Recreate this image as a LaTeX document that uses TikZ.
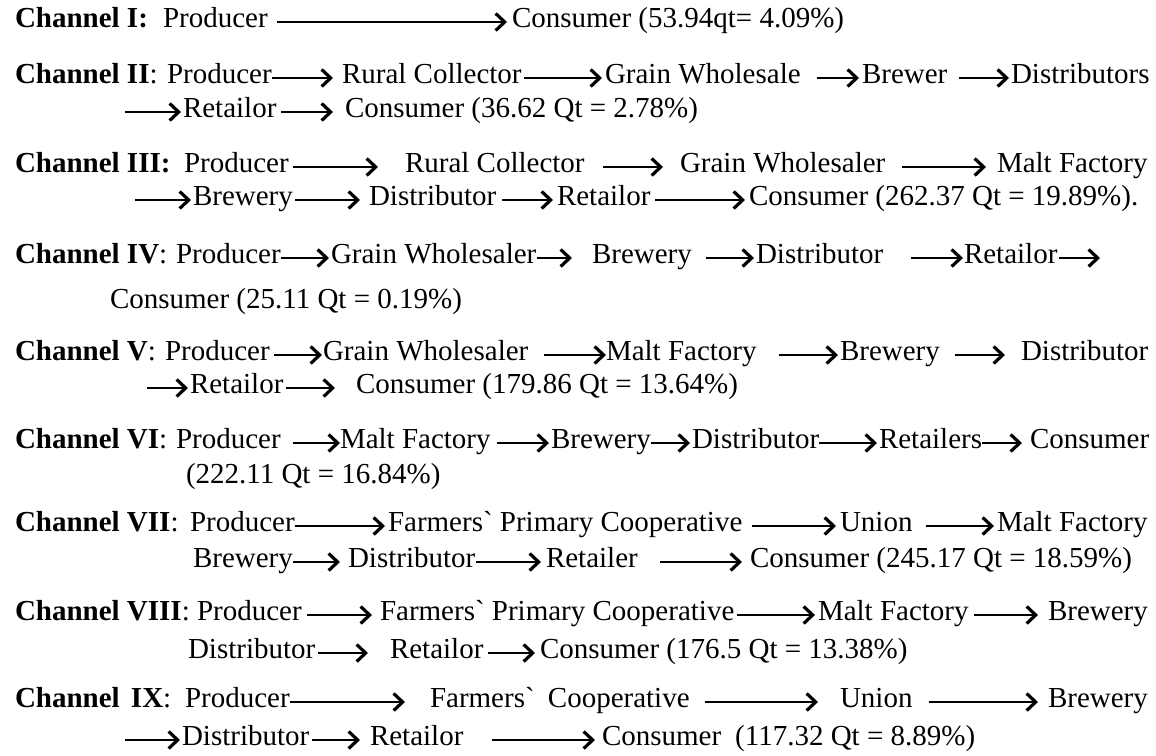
\documentclass[tikz,border=0pt]{standalone}
\usepackage{fontspec}
\setmainfont{Liberation Serif}[Ligatures=TeXOff]
\usetikzlibrary{arrows.meta}
\newcommand\fsz{\fontsize{29}{35}\selectfont}
\tikzset{
  tx/.style={anchor=mid west, inner sep=0pt, outer sep=0pt, font=\fsz},
  flow/.style={line width=2.3pt, -{Straight Barb[length=9pt,width=17pt,line width=3.2pt]}},
}
\newcommand\arr[4]{\draw[flow,shorten <=#3pt,shorten >=#4pt] ([yshift=3pt]#1.mid east) -- ([yshift=3pt]#2.mid west);}
\begin{document}
\begin{tikzpicture}[x=1pt,y=-1pt]
\fill[white] (0,0) rectangle (1156,755);
\useasboundingbox (0,0) rectangle (1156,755);
% Channel I
\node[tx] (h1) at (15,25) {\textbf{Channel I:}};
\node[tx] (p1) at (163,25) {Producer};
\node[tx] (c1) at (512,25) {Consumer (53.94qt= 4.09\%)};
\arr{p1}{c1}{9}{5}
% Channel II
\node[tx] (h2) at (15,81) {\textbf{Channel II}:};
\node[tx] (p2) at (167,81) {Producer};
\node[tx] (r2) at (342,81) {Rural Collector};
\node[tx] (g2) at (605,81) {Grain Wholesale};
\node[tx] (b2) at (862,81) {Brewer};
\node[tx] (d2) at (1011,81) {Distributors};
\arr{p2}{r2}{0}{9}
\arr{r2}{g2}{2}{3}
\arr{g2}{b2}{16}{3}
\arr{b2}{d2}{12}{2}
\coordinate (s3) at (125,115);
\node[tx] (t3) at (183,115) {Retailor};
\node[tx] (k3) at (345,115) {Consumer (36.62 Qt = 2.78\%)};
\draw[flow,shorten >=2pt] ([yshift=3pt]s3) -- ([yshift=3pt]t3.mid west);
\arr{t3}{k3}{5}{12}
% Channel III
\node[tx] (h4) at (15,170) {\textbf{Channel III:}};
\node[tx] (p4) at (184,170) {Producer};
\node[tx] (r4) at (405,170) {Rural Collector};
\node[tx] (g4) at (680,170) {Grain Wholesaler};
\node[tx] (m4) at (997,170) {Malt Factory};
\arr{p4}{r4}{4}{27}
\arr{r4}{g4}{18}{17}
\arr{g4}{m4}{17}{11}
\coordinate (s5) at (135,203);
\node[tx] (b5) at (193,203) {Brewery};
\node[tx] (d5) at (369,203) {Distributor};
\node[tx] (t5) at (557,203) {Retailor};
\node[tx] (k5) at (749,203) {Consumer (262.37 Qt = 19.89\%).};
\draw[flow,shorten >=2pt] ([yshift=3pt]s5) -- ([yshift=3pt]b5.mid west);
\arr{b5}{d5}{2}{9}
\arr{d5}{t5}{6}{4}
\arr{t5}{k5}{5}{4}
% Channel IV
\node[tx] (h6) at (15,261) {\textbf{Channel IV}:};
\node[tx] (p6) at (176,261) {Producer};
\node[tx] (g6) at (331,261) {Grain Wholesaler};
\node[tx] (b6) at (592,261) {Brewery};
\node[tx] (d6) at (756,261) {Distributor};
\node[tx] (t6) at (964,261) {Retailor};
\coordinate (e6) at (1100,261);
\arr{p6}{g6}{0}{2}
\arr{g6}{b6}{1}{20}
\arr{b6}{d6}{14}{2}
\arr{d6}{t6}{28}{1}
\draw[flow,shorten <=2pt] ([yshift=3pt]t6.mid east) -- ([yshift=3pt]e6);
\node[tx] (k7) at (110,306) {Consumer (25.11 Qt = 0.19\%)};
% Channel V
\node[tx] (h8) at (15,358) {\textbf{Channel V}:};
\node[tx] (p8) at (165,358) {Producer};
\node[tx] (g8) at (323,358) {Grain Wholesaler};
\node[tx] (m8) at (606,358) {Malt Factory};
\node[tx] (b8) at (840,358) {Brewery};
\node[tx] (d8) at (1021,358) {Distributor};
\arr{p8}{g8}{4}{1}
\arr{g8}{m8}{16}{0}
\arr{m8}{b8}{22}{2}
\arr{b8}{d8}{15}{16}
\coordinate (s9) at (147,391);
\node[tx] (t9) at (190,391) {Retailor};
\node[tx] (k9) at (356,391) {Consumer (179.86 Qt = 13.64\%)};
\draw[flow,shorten >=2pt] ([yshift=3pt]s9) -- ([yshift=3pt]t9.mid west);
\arr{t9}{k9}{3}{21}
% Channel VI
\node[tx] (h10) at (15,446) {\textbf{Channel VI}:};
\node[tx] (p10) at (176,446) {Producer};
\node[tx] (m10) at (340,446) {Malt Factory};
\node[tx] (b10) at (551,446) {Brewery};
\node[tx] (d10) at (692,446) {Distributor};
\node[tx] (t10) at (879,446) {Retailers};
\node[tx] (k10) at (1030,446) {Consumer};
\arr{p10}{m10}{12}{0}
\arr{m10}{b10}{6}{2}
\arr{b10}{d10}{0}{2}
\arr{d10}{t10}{0}{2}
\arr{t10}{k10}{0}{8}
\node[tx] (q11) at (186,481) {(222.11 Qt = 16.84\%)};
% Channel VII
\node[tx] (h12) at (15,529) {\textbf{Channel VII}:};
\node[tx] (p12) at (190,529) {Producer};
\node[tx] (f12) at (388,529) {Farmers` Primary Cooperative};
\node[tx] (u12) at (840,529) {Union};
\node[tx] (m12) at (997,529) {Malt Factory};
\arr{p12}{f12}{0}{3}
\arr{f12}{u12}{10}{4}
\arr{u12}{m12}{13}{3}
\node[tx] (b13) at (193,565) {Brewery};
\node[tx] (d13) at (348,565) {Distributor};
\node[tx] (t13) at (546,565) {Retailer};
\node[tx] (k13) at (750,565) {Consumer (245.17 Qt = 18.59\%)};
\arr{b13}{d13}{0}{8}
\arr{d13}{t13}{1}{5}
\arr{t13}{k13}{22}{8}
% Channel VIII
\node[tx] (h14) at (15,618) {\textbf{Channel VIII}:};
\node[tx] (p14) at (197,618) {Producer};
\node[tx] (f14) at (380,618) {Farmers` Primary Cooperative};
\node[tx] (m14) at (818,618) {Malt Factory};
\node[tx] (b14) at (1048,618) {Brewery};
\arr{p14}{f14}{5}{8}
\arr{f14}{m14}{3}{3}
\arr{m14}{b14}{5}{10}
\node[tx] (d15) at (188,656) {Distributor};
\node[tx] (t15) at (390,656) {Retailor};
\node[tx] (k15) at (540,656) {Consumer (176.5 Qt = 13.38\%)};
\arr{d15}{t15}{3}{22}
\arr{t15}{k15}{5}{5}
% Channel IX
\node[tx] (h16) at (15,705) {\textbf{Channel\hspace{4pt} IX}:};
\node[tx] (p16) at (185,705) {Producer};
\node[tx] (f16) at (430,705) {Farmers`\hspace{6pt} Cooperative};
\node[tx] (u16) at (840,705) {Union};
\node[tx] (b16) at (1048,705) {Brewery};
\arr{p16}{f16}{0}{25}
\arr{f16}{u16}{15}{22}
\arr{u16}{b16}{16}{10}
\coordinate (s17) at (125,743);
\node[tx] (d17) at (182,743) {Distributor};
\node[tx] (t17) at (370,743) {Retailor};
\node[tx] (k17) at (602,743) {Consumer\hspace{14pt}(117.32 Qt = 8.89\%)};
\draw[flow,shorten >=2pt] ([yshift=3pt]s17) -- ([yshift=3pt]d17.mid west);
\arr{d17}{t17}{3}{10}
\arr{t17}{k17}{29}{7}
\end{tikzpicture}
\end{document}
